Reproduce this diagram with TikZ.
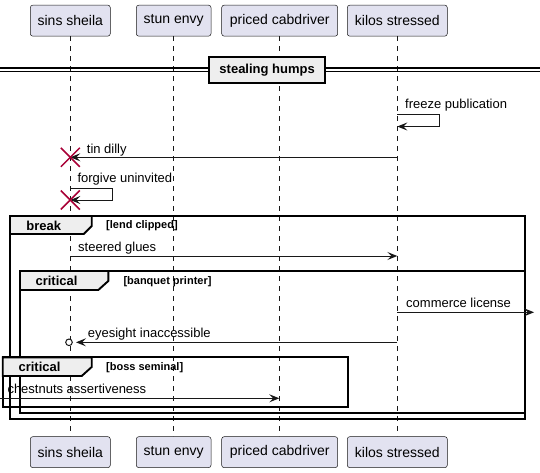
\documentclass[tikz,border=0pt]{standalone}
\usepackage{fontspec}
\setmainfont{Liberation Sans}
\usetikzlibrary{arrows.meta,calc}
\definecolor{partfill}{HTML}{E2E2F0}
\definecolor{ink}{HTML}{181818}
\definecolor{tabfill}{HTML}{EEEEEE}
\definecolor{xred}{HTML}{A80036}
\begin{document}
\begin{tikzpicture}[x=1pt,y=-1pt,
  part/.style={draw=ink, line width=0.5pt, fill=partfill, rounded corners=2.5pt, inner sep=0pt,
    font=\fontsize{14}{16}\selectfont, minimum height=31pt},
  life/.style={draw=ink, line width=0.5pt, dash pattern=on 5pt off 5pt},
  msg/.style={draw=ink, line width=1pt, -{Stealth[length=10pt,width=8pt,inset=4pt]}},
  mlabel/.style={inner sep=0pt, anchor=base west, font=\fontsize{13}{15}\selectfont},
  framebox/.style={draw=black, line width=1.9pt},
  tabshape/.style={draw=black, line width=1.9pt, fill=tabfill},
  tabtitle/.style={inner sep=0pt, anchor=base, font=\fontsize{13}{15}\selectfont\bfseries},
  tabguard/.style={inner sep=0pt, anchor=base west, font=\fontsize{11}{13}\selectfont\bfseries},
  xmark/.style={draw=xred, line width=1.5pt},
]
\useasboundingbox (0,0) rectangle (540,473);

% participants
\node[part, minimum width=80pt]  (p1t) at (70.3,20.65) {sins sheila};
\node[part, minimum width=74.7pt] (p2t) at (173.65,20.65) {stun envy};
\node[part, minimum width=116pt] (p3t) at (279.7,20.65) {priced cabdriver};
\node[part, minimum width=100pt] (p4t) at (397.3,20.65) {kilos stressed};
\node[part, minimum width=80pt]  (p1b) at (70.3,452.15) {sins sheila};
\node[part, minimum width=74.7pt] (p2b) at (173.65,452.15) {stun envy};
\node[part, minimum width=116pt] (p3b) at (279.7,452.15) {priced cabdriver};
\node[part, minimum width=100pt] (p4b) at (397.3,452.15) {kilos stressed};

% lifelines
\draw[life] (p1t.south) -- (p1b.north);
\draw[life] (p2t.south) -- (p2b.north);
\draw[life] (p3t.south) -- (p3b.north);
\draw[life] (p4t.south) -- (p4b.north);

% separator
\draw[line width=1.2pt] (0,68) -- (540,68);
\draw[line width=1.2pt] (0,71.3) -- (540,71.3);
\node[draw=black, line width=1.9pt, fill=tabfill, minimum width=115.7pt, minimum height=25.4pt, inner sep=0pt,
  font=\fontsize{13}{15}\selectfont\bfseries] (sep) at (267.15,70) {stealing humps};

% frames
\draw[framebox] (10,216) rectangle (525,419.3);
\filldraw[tabshape] (10,216) -- (91.7,216) -- (91.7,226) -- (83.7,234) -- (10,234) -- cycle;
\node[tabtitle] (t1) at (43.8,230.6) {break};
\node[tabguard] (g1) at (106,228.8) {[lend clipped]};

\draw[framebox] (20,271) rectangle (525,413.3);
\filldraw[tabshape] (20,271) -- (108.3,271) -- (108.3,281) -- (98.3,290) -- (20,290) -- cycle;
\node[tabtitle] (t2) at (56.5,285.8) {critical};
\node[tabguard] (g2) at (123.3,284.3) {[banquet printer]};

\draw[framebox] (2.7,357.3) rectangle (347.7,406.7);
\filldraw[tabshape] (2.7,357.3) -- (91.7,357.3) -- (91.7,367) -- (81.7,376) -- (2.7,376) -- cycle;
\node[tabtitle] (t3) at (39.5,371.6) {critical};
\node[tabguard] (g3) at (106,370.3) {[boss seminal]};

% message 1: freeze publication (self)
\coordinate (m1a) at (397.3,115);
\coordinate (m1b) at (397.3,126.5);
\draw[msg] (m1a) -- (439.3,115) |- (m1b);
\node[mlabel] (l1) at (405,108.3) {freeze publication};

% message 2: tin dilly
\coordinate (m2a) at (397.3,157.3);
\coordinate (m2b) at (70.3,157.3);
\draw[msg] (m2a) -- (m2b);
\node[mlabel] (l2) at (86.7,153.3) {tin dilly};
\draw[xmark] ($(m2b)+(-9.5,-9.5)$) -- ($(m2b)+(9.5,9.5)$);
\draw[xmark] ($(m2b)+(-9.5,9.5)$) -- ($(m2b)+(9.5,-9.5)$);

% message 3: forgive uninvited (self)
\coordinate (m3a) at (70.3,188.3);
\coordinate (m3b) at (70.3,200);
\draw[msg] (m3a) -- (112.7,188.3) |- (m3b);
\node[mlabel] (l3) at (77.3,182.6) {forgive uninvited};
\draw[xmark] ($(m3b)+(-9.5,-9.5)$) -- ($(m3b)+(9.5,9.5)$);
\draw[xmark] ($(m3b)+(-9.5,9.5)$) -- ($(m3b)+(9.5,-9.5)$);

% message 4: steered glues
\coordinate (m4a) at (70.3,256);
\coordinate (m4b) at (397.3,256);
\draw[msg] (m4a) -- (m4b);
\node[mlabel] (l4) at (78,251.8) {steered glues};

% message 5: commerce license
\coordinate (m5a) at (397.3,312.3);
\coordinate (m5b) at (534,312.3);
\draw[msg] (m5a) -- (m5b);
\node[mlabel] (l5) at (406,307.5) {commerce license};

% message 6: eyesight inaccessible
\coordinate (m6a) at (397.3,342.3);
\coordinate (m6b) at (76,342.3);
\draw[msg] (m6a) -- (m6b);
\node[draw=ink, line width=1pt, fill=white, circle, minimum size=6.6pt, inner sep=0pt] (c6) at (69,342.3) {};
\node[mlabel] (l6) at (87.7,337.5) {eyesight inaccessible};

% message 7: chestnuts assertiveness
\coordinate (m7a) at (0,398.3);
\coordinate (m7b) at (279.3,398.3);
\draw[msg] (m7a) -- (m7b);
\node[mlabel] (l7) at (7.3,393.5) {chestnuts assertiveness};
\end{tikzpicture}
\end{document}
